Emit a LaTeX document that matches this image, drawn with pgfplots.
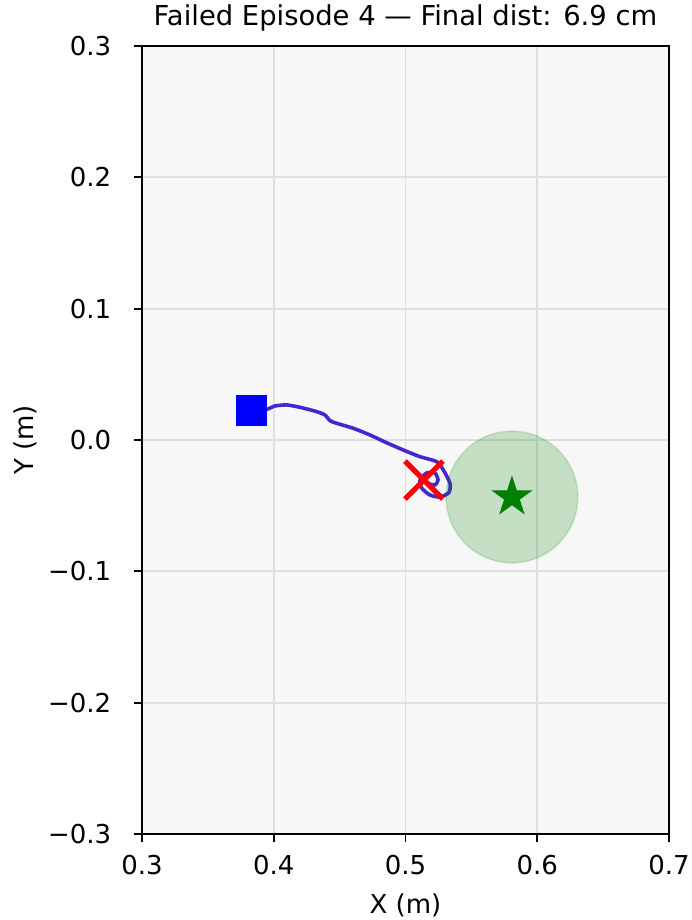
\documentclass[border=0pt]{standalone}
\usepackage{pgfplots}
\pgfplotsset{compat=1.18}
\usepackage{fontspec}
\setmainfont{DejaVu Sans}

\definecolor{trajcol}{RGB}{72,38,205}
\definecolor{bgcol}{RGB}{247,247,247}
\definecolor{goalgreen}{RGB}{0,128,0}
\definecolor{gridcol}{RGB}{222,222,222}

% filled five-pointed star
\pgfdeclareplotmark{fstar}{%
  \pgfpathmoveto{\pgfpointpolar{90}{\pgfplotmarksize}}%
  \pgfpathlineto{\pgfpointpolar{126}{0.382\pgfplotmarksize}}%
  \pgfpathlineto{\pgfpointpolar{162}{\pgfplotmarksize}}%
  \pgfpathlineto{\pgfpointpolar{198}{0.382\pgfplotmarksize}}%
  \pgfpathlineto{\pgfpointpolar{234}{\pgfplotmarksize}}%
  \pgfpathlineto{\pgfpointpolar{270}{0.382\pgfplotmarksize}}%
  \pgfpathlineto{\pgfpointpolar{306}{\pgfplotmarksize}}%
  \pgfpathlineto{\pgfpointpolar{342}{0.382\pgfplotmarksize}}%
  \pgfpathlineto{\pgfpointpolar{18}{\pgfplotmarksize}}%
  \pgfpathlineto{\pgfpointpolar{54}{0.382\pgfplotmarksize}}%
  \pgfpathclose
  \pgfusepathqfillstroke
}

\begin{document}
\begin{tikzpicture}
\begin{axis}[
  name=ax,
  at={(0,0)}, anchor=south west,
  scale only axis,
  width=263.5pt, height=394pt,
  xmin=0.3, xmax=0.7, ymin=-0.3, ymax=0.3,
  xtick={0.3,0.4,0.5,0.6,0.7},
  xticklabels={0.3,0.4,0.5,0.6,0.7},
  ytick={-0.3,-0.2,-0.1,0,0.1,0.2,0.3},
  yticklabels={−0.3,−0.2,−0.1,0.0,0.1,0.2,0.3},
  tick align=outside,
  tick pos=left,
  major tick length=4.2pt,
  every tick/.style={black, line width=0.95pt},
  axis line style={line width=0.95pt},
  axis background/.style={fill=bgcol},
  grid=major,
  major grid style={gridcol, line width=0.9pt},
  tick label style={font=\fontsize{13}{15}\selectfont},
  xticklabel style={anchor=base, yshift=-16pt},
  yticklabel style={anchor=east, inner sep=0pt, xshift=-11pt},
  title={Failed Episode 4 — Final dist: 6.9 cm},
  title style={font=\fontsize{13.7}{16}\selectfont, at={(axis description cs:0.5,1)}, anchor=base, yshift=4pt, inner sep=0pt},
  xlabel={X (m)},
  ylabel={Y (m)},
  label style={font=\fontsize{13}{15}\selectfont},
  xlabel style={at={([yshift=-35.5pt]axis description cs:0.5,0)}, anchor=center},
  ylabel style={at={([xshift=-58.5pt]axis description cs:0,0.5)}, anchor=center},
  clip=false,
]
% goal region (radius 0.05 m)
\addplot[only marks, mark=*, mark size=32.94pt,
  mark options={fill=goalgreen, fill opacity=0.2, draw=goalgreen, draw opacity=0.15, line width=0.8pt}]
  coordinates {(0.5808,-0.0434)};
% end-effector path
\addplot[trajcol, line width=1.8pt, line join=round, line cap=round, smooth, tension=0.4] coordinates {
  (0.3827,0.0228) (0.3946,0.0234) (0.4009,0.0259) (0.4098,0.0267)
  (0.4199,0.0249) (0.4326,0.0216) (0.4389,0.0190) (0.4427,0.0147)
  (0.4478,0.0127) (0.4604,0.0089) (0.4731,0.0038) (0.4857,-0.0021)
  (0.4983,-0.0076) (0.5110,-0.0127) (0.5237,-0.0165) (0.5287,-0.0228)
  (0.5338,-0.0330) (0.5330,-0.0400) (0.5262,-0.0434) (0.5186,-0.0419)
  (0.5123,-0.0366) (0.5110,-0.0305) (0.5161,-0.0251) (0.5224,-0.0251)
  (0.5247,-0.0305) (0.5224,-0.0343) (0.5186,-0.0335) (0.5140,-0.0305)
};
% start
\addplot[only marks, mark=square*, mark size=7.5pt, mark options={fill=blue, draw=blue}]
  coordinates {(0.3827,0.0228)};
% goal
\addplot[only marks, mark=fstar, mark size=10pt, mark options={fill=goalgreen, draw=goalgreen, line width=0.5pt}]
  coordinates {(0.5808,-0.0434)};
% final position
\addplot[only marks, mark=x, mark size=13.4pt, mark options={draw=red, line width=2.6pt}]
  coordinates {(0.5140,-0.0305)};
\end{axis}
\pgfresetboundingbox
\path[use as bounding box] ([xshift=-71pt,yshift=-43pt]ax.south west) rectangle ([xshift=274.5pt,yshift=417pt]ax.south west);
\end{tikzpicture}
\end{document}
